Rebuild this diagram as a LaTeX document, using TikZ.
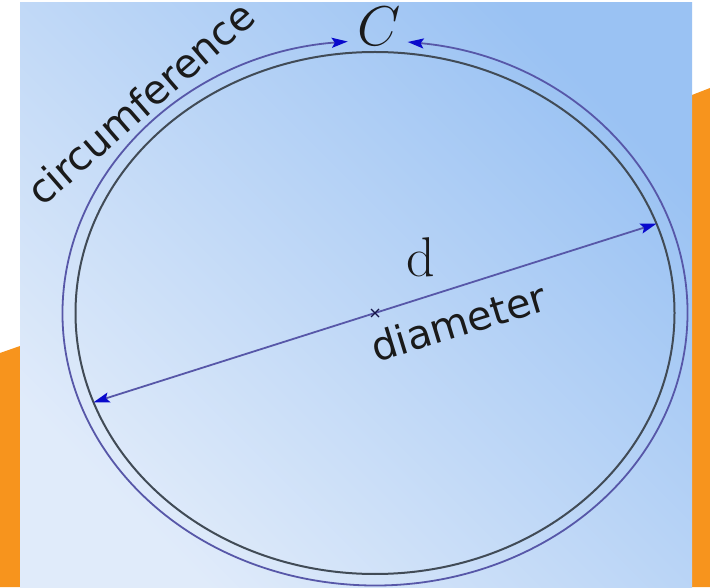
\RequirePackage{fix-cm}
\documentclass[tikz,border=0pt]{standalone}
\usepackage{fontspec}
\newfontfamily\labelsans{DejaVu Sans}
\usetikzlibrary{arrows.meta,calc}
\definecolor{bgdark}{HTML}{9AC2F3}
\definecolor{bglight}{HTML}{E0EBFA}
\definecolor{orng}{HTML}{F7941D}
\definecolor{rimgray}{HTML}{414B56}
\definecolor{lineblue}{HTML}{5757A8}
\definecolor{tipblue}{HTML}{0A0ACC}
\definecolor{inkblack}{HTML}{1A1A1A}
\tikzset{
  rim/.style={draw=rimgray, line width=2pt},
  measure/.style={draw=lineblue, line width=1.8pt,
    {Stealth[length=16pt,width=10pt,inset=3pt,color=tipblue]}-{Stealth[length=16pt,width=10pt,inset=3pt,color=tipblue]}},
  sanslabel/.style={font=\labelsans\fontsize{40}{48}\selectfont, text=inkblack, inner sep=0pt},
  mathlabel/.style={font=\fontsize{56}{60}\selectfont, text=inkblack, inner sep=0pt},
  centremark/.style={draw=inkblack!80!blue, line width=1.2pt}
}
\begin{document}
\begin{tikzpicture}[x=1pt,y=1pt]
\useasboundingbox (0,0) rectangle (710,587);
% orange shapes behind
\fill[orng] (0,0) -- (0,234) -- (20,241) -- (20,0) -- cycle;
\fill[orng] (692,0) -- (692,492) -- (710,499) -- (710,0) -- cycle;
% background panel
\shade[top color=bgdark, bottom color=bglight, shading angle=-45] (20,0) rectangle (692,584);
% geometry
\coordinate (O) at (375,274);
\coordinate (cR) at ($(O)+(84:312.5 and 272.5)$);
\coordinate (dL) at ($(O)+(200:299.5 and 261)$);
\coordinate (dR) at ($(O)+(20:299.5 and 261)$);
% inner circle
\draw[rim] (O) ellipse[x radius=299.5, y radius=261];
% circumference arc with arrows
\draw[measure] (cR) arc[start angle=84, end angle=-265, x radius=312.5, y radius=272.5];
% diameter
\draw[measure] (dL) -- (dR);
% centre mark
\draw[centremark] ($(O)+(-4,-4)$) -- ($(O)+(4,4)$);
\draw[centremark] ($(O)+(-4,4)$) -- ($(O)+(4,-4)$);
% labels
\node[mathlabel] (C) at (379,561) {$C$};
\node[mathlabel] (d) at (421,330) {d};
\node[sanslabel, anchor=base, rotate=41] (circ) at (150,473) {circumference};
\node[sanslabel, anchor=base, rotate=17] (diam) at (463,251) {diameter};
\end{tikzpicture}
\end{document}
